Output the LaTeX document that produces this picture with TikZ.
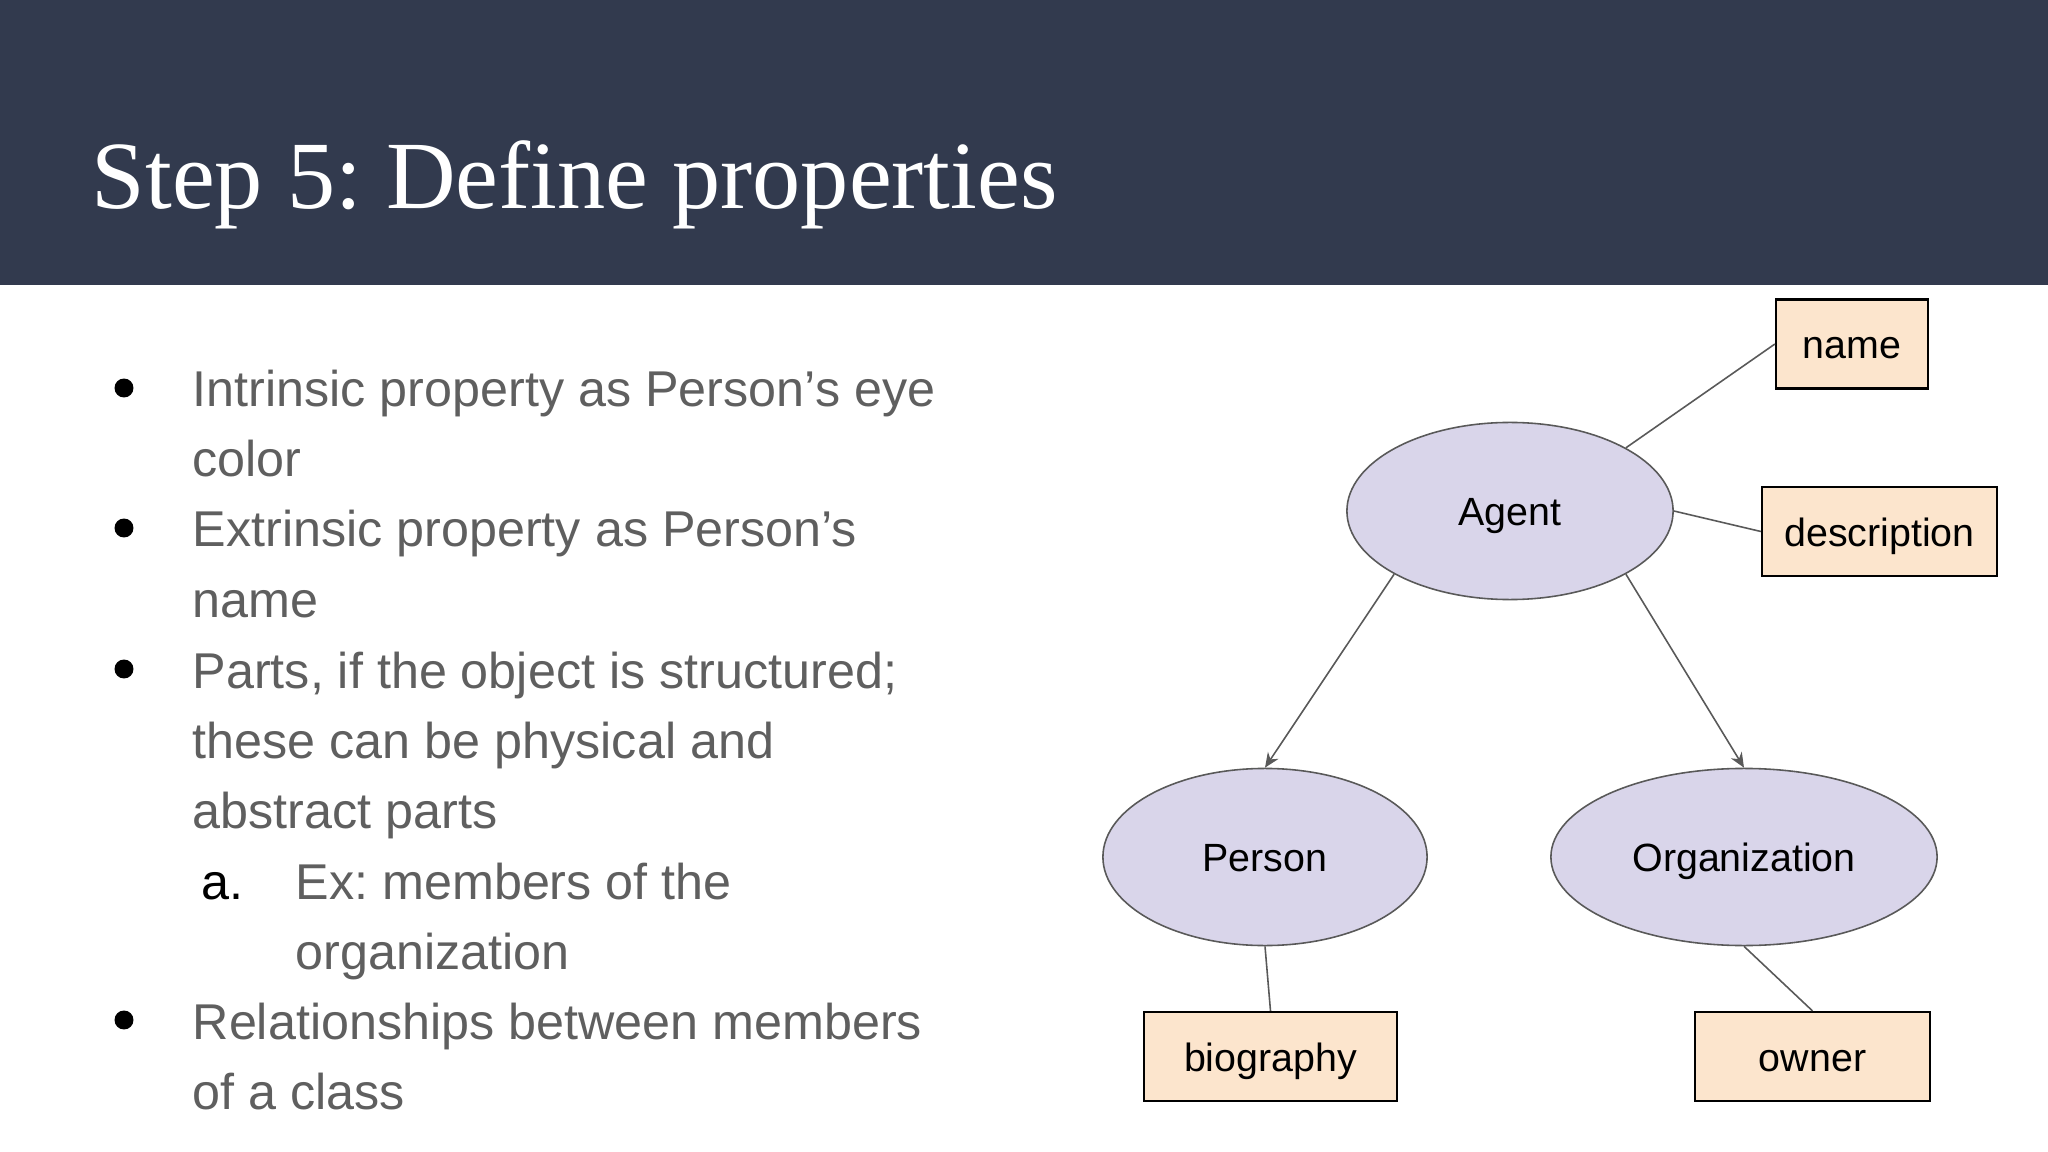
\documentclass[tikz,border=0pt]{standalone}
\usepackage{fontspec}
\setmainfont{Liberation Sans}
\newfontfamily\titlefont{Liberation Serif}
\usepackage{xcolor}
\usepackage{tikz}
\usetikzlibrary{shapes.geometric,arrows.meta}
\frenchspacing

\definecolor{headerblue}{HTML}{323A4E}
\definecolor{textgray}{HTML}{5F5F5F}
\definecolor{lavender}{HTML}{D9D5EA}
\definecolor{peach}{HTML}{FCE5CD}
\definecolor{linegray}{HTML}{595959}

\begin{document}
\begin{tikzpicture}[x=0.01cm, y=0.01cm,
  cls/.style={ellipse, draw=linegray, line width=0.45pt, fill=lavender, inner sep=0pt, minimum height=1.77cm, text height=0.95em, text depth=0.11em, font=\fontsize{11.2}{13}\selectfont},
  prop/.style={rectangle, draw=black, line width=0.6pt, fill=peach, inner sep=0pt, minimum height=0.89cm, text height=0.95em, text depth=0.11em, font=\fontsize{11.2}{13}\selectfont},
  txt/.style={anchor=base west, inner sep=0pt, text=textgray, font=\fontsize{14.3}{17}\selectfont},
  link/.style={draw=linegray, line width=0.45pt},
  isa/.style={link, -{Stealth[length=4.2pt, width=3.6pt]}}
]
\useasboundingbox (0,0) rectangle (2048,-1152);
\fill[white] (0,0) rectangle (2048,-1152);
\fill[headerblue] (0,0) rectangle (2048,-285);
\node[anchor=base west, inner sep=0pt, text=white, font=\titlefont\fontsize{27.4}{32}\selectfont] (title) at (91,-209) {Step 5: Define properties};

% bullet list
\fill (124,-388) circle (2.7pt);
\fill (124,-528) circle (2.7pt);
\fill (124,-669) circle (2.7pt);
\fill (124,-1020) circle (2.7pt);
\node[txt] (intrA) at (192,-407) {Intrinsic property as Person’s eye};
\node[txt] (intrB) at (192,-477) {color};
\node[txt] (extrA) at (192,-547) {Extrinsic property as Person’s};
\node[txt] (extrB) at (192,-617) {name};
\node[txt] (partsA) at (192,-688) {Parts, if the object is structured;};
\node[txt] (partsB) at (192,-758) {these can be physical and};
\node[txt] (partsC) at (192,-828) {abstract parts};
\node[txt, text=black] (subA) at (201,-899) {a.};
\node[txt] (exA) at (295,-899) {Ex: members of the};
\node[txt] (exB) at (295,-969) {organization};
\node[txt] (relA) at (192,-1039) {Relationships between members};
\node[txt] (relB) at (192,-1109) {of a class};

% diagram
\node[cls, minimum width=3.26cm] (agent) at (1510,-511) {Agent};
\node[cls, minimum width=3.24cm] (person) at (1265,-857) {Person};
\node[cls, minimum width=3.86cm] (org) at (1744,-857) {Organization};
\node[prop, minimum width=1.52cm] (name) at (1852,-344) {name};
\node[prop, minimum width=2.35cm] (desc) at (1879.5,-531.5) {description};
\node[prop, minimum width=2.53cm] (bio) at (1270.5,-1056.5) {biography};
\node[prop, minimum width=2.35cm] (owner) at (1812.5,-1056.5) {owner};

\draw[link] (agent.north east) -- (name.west);
\draw[link] (agent.east) -- (desc.west);
\draw[isa] (agent.south west) -- (person.north);
\draw[isa] (agent.south east) -- (org.north);
\draw[link] (person.south) -- (bio.north);
\draw[link] (org.south) -- (owner.north);
\end{tikzpicture}
\end{document}
